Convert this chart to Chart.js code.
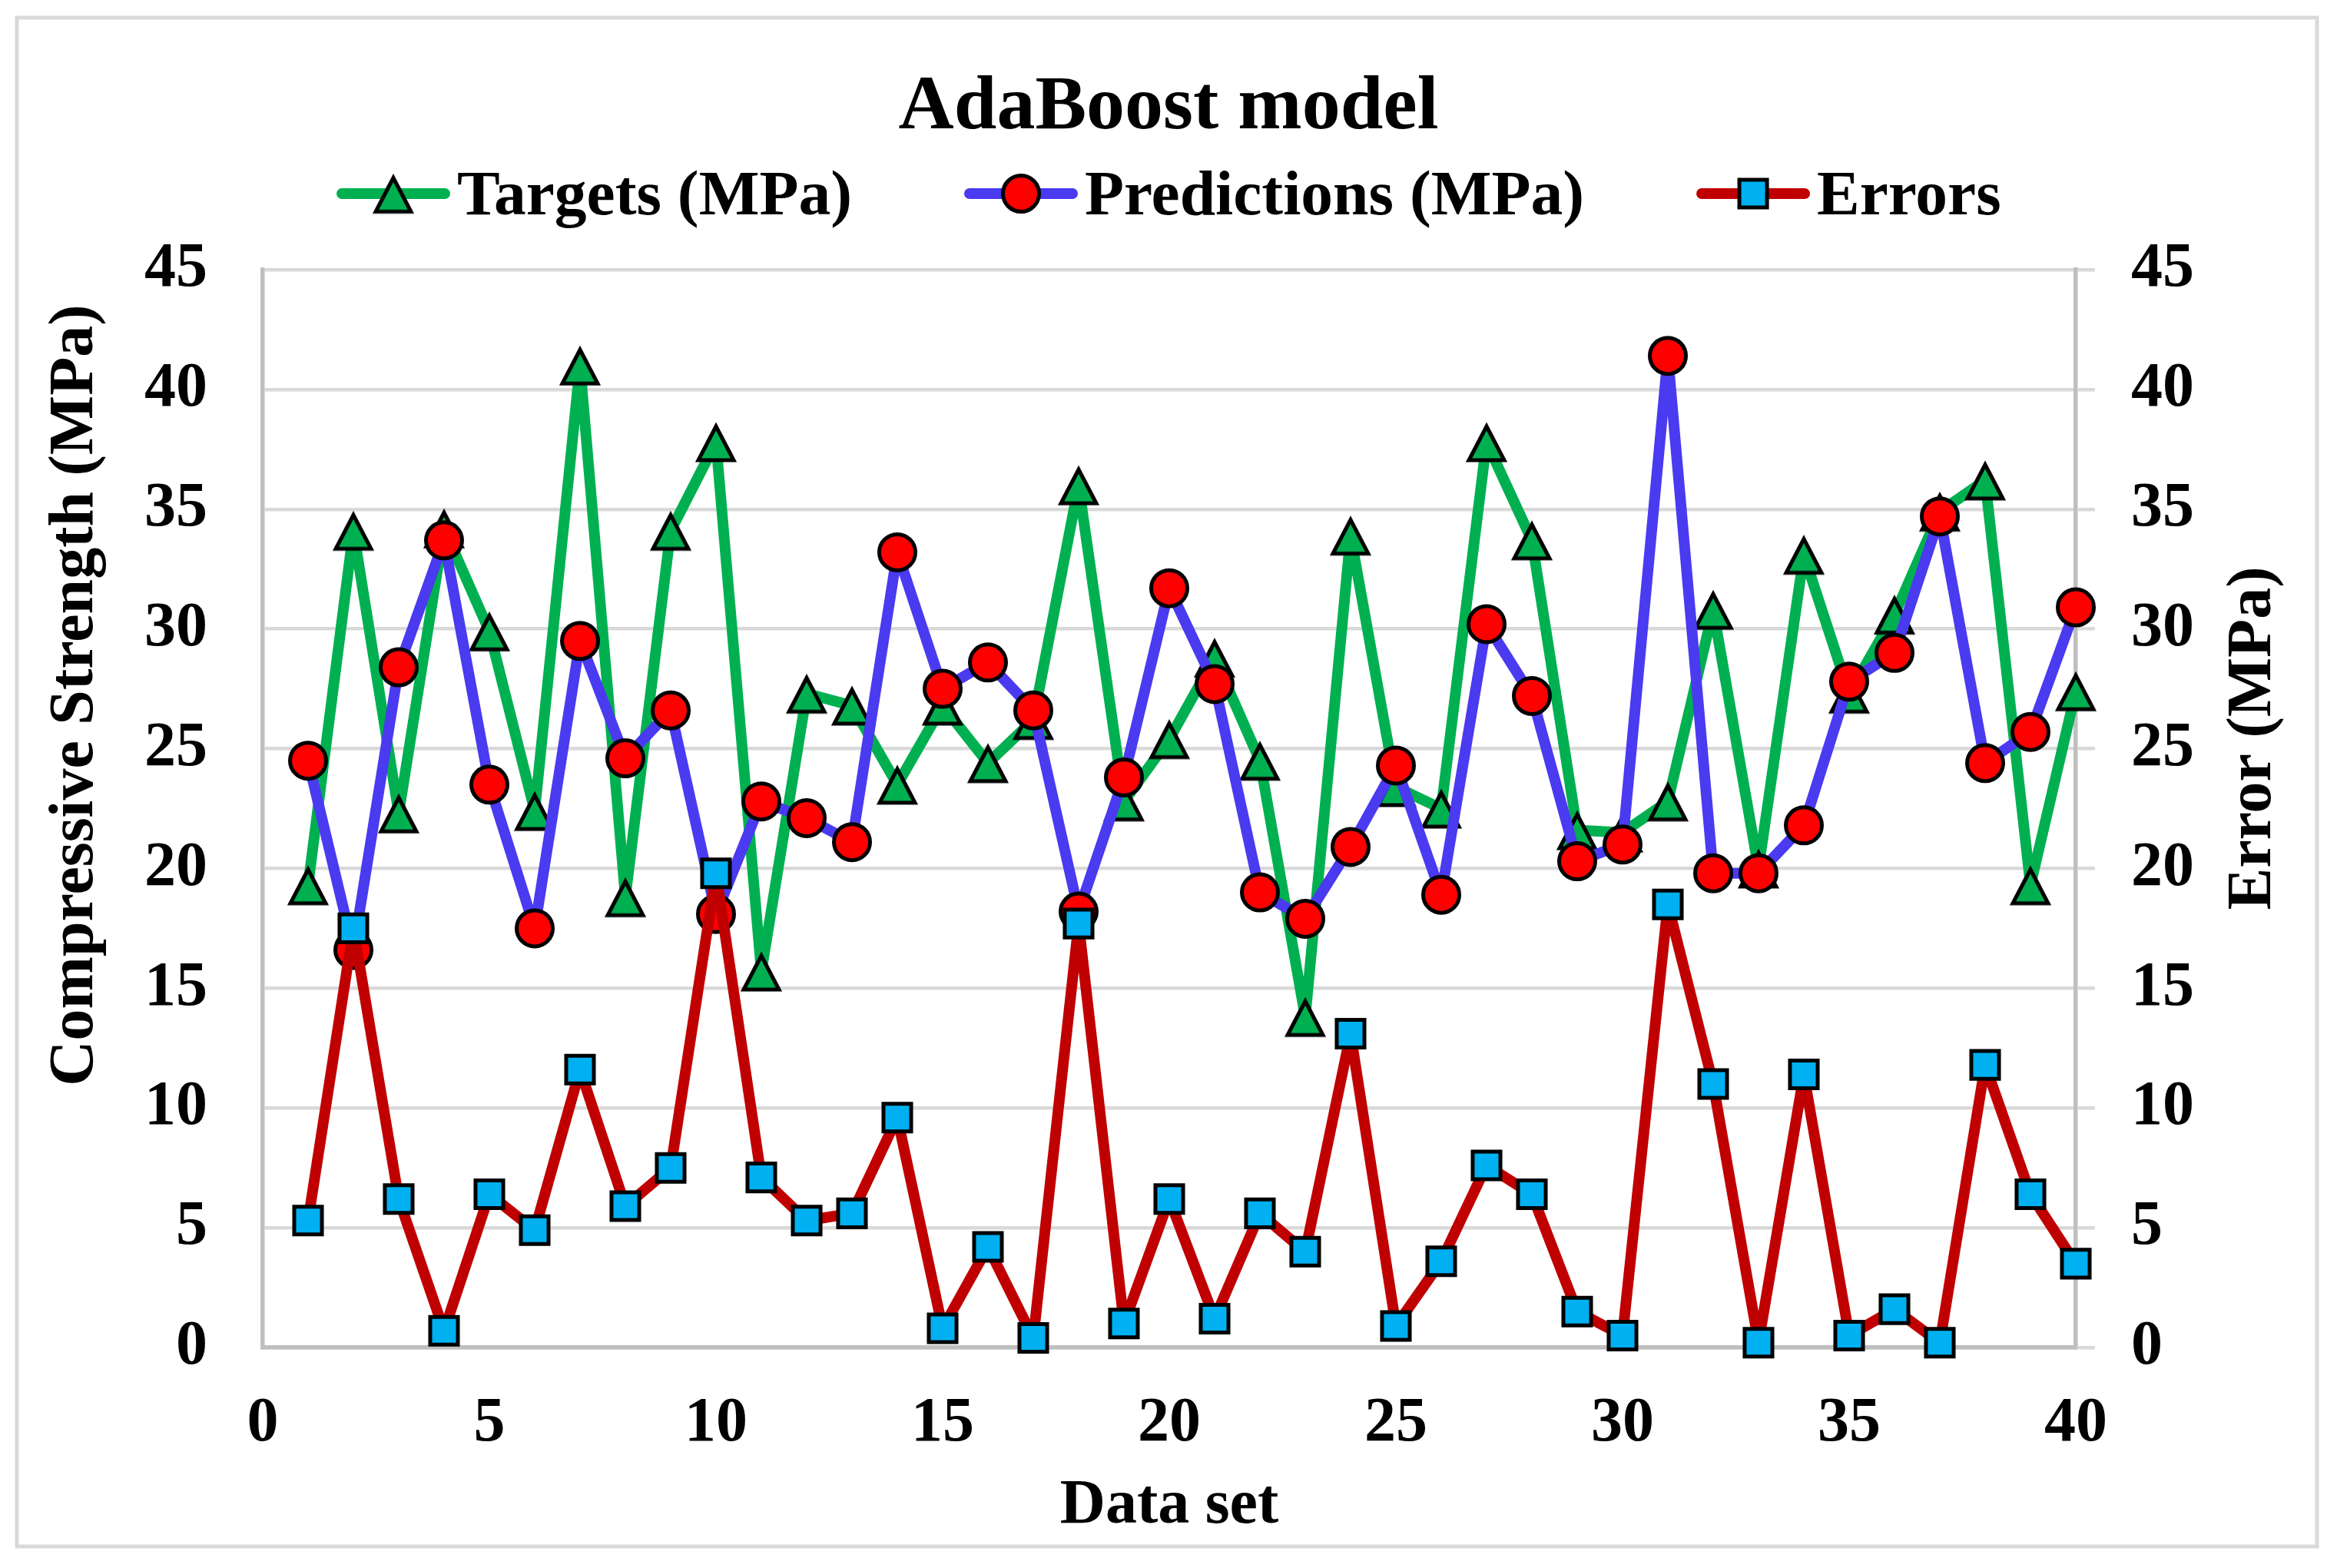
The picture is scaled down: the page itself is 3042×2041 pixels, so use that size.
<!DOCTYPE html>
<html>
<head>
<meta charset="utf-8">
<script src="https://cdn.jsdelivr.net/npm/chart.js@4.4.1/dist/chart.umd.min.js"></script>
<style>
  html, body { margin: 0; padding: 0; background: #ffffff; overflow: hidden; }
  canvas { display: block; }
</style>
</head>
<body>
<canvas id="chart" width="3042" height="2041" style="width:3042px;height:2041px"></canvas>
<script>
// ---- Data ----
const dataSet = [1, 2, 3, 4, 5, 6, 7, 8, 9, 10, 11, 12, 13, 14, 15, 16, 17, 18, 19, 20,
                 21, 22, 23, 24, 25, 26, 27, 28, 29, 30, 31, 32, 33, 34, 35, 36, 37, 38, 39, 40];
const targets = [19.3, 34.1, 22.3, 34.2, 29.9, 22.4, 41.0, 18.8, 34.1, 37.8,
                 15.7, 27.3, 26.8, 23.5, 26.8, 24.4, 26.2, 36.0, 22.8, 25.4,
                 28.8, 24.5, 13.8, 33.9, 23.4, 22.5, 37.8, 33.7, 21.6, 21.5,
                 22.8, 30.8, 20.0, 33.1, 27.3, 30.6, 34.9, 36.2, 19.3, 27.4];
const predictions = [24.5, 16.6, 28.4, 33.7, 23.5, 17.5, 29.5, 24.6, 26.6, 18.1,
                     22.8, 22.1, 21.1, 33.2, 27.5, 28.6, 26.6, 18.2, 23.8, 31.7,
                     27.7, 19.0, 17.9, 20.9, 24.3, 18.9, 30.2, 27.2, 20.3, 21.0,
                     41.4, 19.8, 19.8, 21.8, 27.8, 29.0, 34.7, 24.4, 25.7, 30.9];
const errors = [5.3, 17.5, 6.2, 0.7, 6.4, 4.9, 11.6, 5.9, 7.5, 19.8,
                7.1, 5.3, 5.6, 9.6, 0.8, 4.2, 0.4, 17.7, 1.0, 6.2,
                1.2, 5.6, 4.0, 13.1, 0.9, 3.6, 7.6, 6.4, 1.5, 0.5,
                18.5, 11.0, 0.2, 11.4, 0.5, 1.6, 0.2, 11.8, 6.4, 3.5];
const xTickValues = [0, 5, 10, 15, 20, 25, 30, 35, 40];
const yTickValues = [0, 5, 10, 15, 20, 25, 30, 35, 40, 45];
const seriesLabels = ['Targets (MPa)', 'Predictions (MPa)', 'Errors'];
const chartTitle = 'AdaBoost model';
const xTitle = 'Data set';
const yLeftTitle = 'Compressive Strength (MPa)';
const yRightTitle = 'Error (MPa)';

// ---- Styles ----
const FONT = "'Liberation Serif', 'Times New Roman', serif";
const GREEN = '#00b050', BLUE = '#4a3af0', DARKRED = '#c00000';
const GRID = '#d9d9d9', AXIS = '#bfbfbf';

function triangleImage() {
  const c = document.createElement('canvas');
  c.width = 60; c.height = 57;
  const g = c.getContext('2d');
  g.beginPath();
  g.moveTo(30, 8); g.lineTo(53, 52); g.lineTo(7, 52); g.closePath();
  g.fillStyle = GREEN; g.fill();
  g.lineWidth = 5; g.lineJoin = 'miter'; g.strokeStyle = '#000'; g.stroke();
  return c;
}
const triImg = triangleImage();

const toPoints = (ys) => dataSet.map((x, i) => ({ x: x, y: ys[i] }));

const backgroundPlugin = {
  id: 'bgBorder',
  beforeDraw(chart) {
    const ctx = chart.ctx;
    ctx.save();
    ctx.fillStyle = '#ffffff';
    ctx.fillRect(0, 0, chart.width, chart.height);
    ctx.strokeStyle = GRID;
    ctx.lineWidth = 5;
    ctx.strokeRect(22, 23, 2994, 1990);
    ctx.restore();
  }
};

const textPlugin = {
  id: 'axisTitlesLegend',
  afterDraw(chart) {
    const ctx = chart.ctx;
    ctx.save();
    ctx.fillStyle = '#000';
    ctx.font = 'bold 82px ' + FONT;
    ctx.textAlign = 'center';
    ctx.textBaseline = 'alphabetic';
    // left axis title
    ctx.save();
    ctx.translate(120, 905);
    ctx.rotate(-Math.PI / 2);
    ctx.fillText(yLeftTitle, 0, 0);
    ctx.restore();
    // right axis title
    ctx.save();
    ctx.translate(2955, 961);
    ctx.rotate(-Math.PI / 2);
    ctx.fillText(yRightTitle, 0, 0);
    ctx.restore();

    // legend
    ctx.font = 'bold 83.5px ' + FONT;
    ctx.textAlign = 'left';
    let x = 438;
    const yc = 252, base = 279;
    chart.data.datasets.forEach((ds) => {
      ctx.strokeStyle = ds.borderColor;
      ctx.lineWidth = 14;
      ctx.lineCap = 'round';
      ctx.beginPath();
      ctx.moveTo(x + 7, yc);
      ctx.lineTo(x + 141, yc);
      ctx.stroke();
      const cx = x + 74;
      if (ds.pointStyle === 'circle') {
        ctx.beginPath();
        ctx.arc(cx, yc, ds.pointRadius, 0, Math.PI * 2);
        ctx.fillStyle = ds.pointBackgroundColor; ctx.fill();
        ctx.lineWidth = ds.pointBorderWidth; ctx.strokeStyle = ds.pointBorderColor; ctx.stroke();
      } else if (ds.pointStyle === 'rect') {
        const s = ds.pointRadius * Math.SQRT1_2;
        ctx.beginPath();
        ctx.rect(cx - s, yc - s, 2 * s, 2 * s);
        ctx.fillStyle = ds.pointBackgroundColor; ctx.fill();
        ctx.lineWidth = ds.pointBorderWidth; ctx.strokeStyle = ds.pointBorderColor; ctx.stroke();
      } else {
        const img = ds.pointStyle;
        ctx.drawImage(img, cx - img.width / 2, yc - img.height / 2);
      }
      ctx.fillStyle = '#000';
      ctx.fillText(ds.label, x + 157, base);
      x = x + 157 + ctx.measureText(ds.label).width + 146;
    });
    ctx.restore();
  }
};

const tickFont = { family: FONT, size: 82, weight: 'bold' };

new Chart(document.getElementById('chart'), {
  type: 'line',
  data: {
    datasets: [
      {
        label: seriesLabels[0],
        data: toPoints(targets),
        yAxisID: 'y',
        borderColor: GREEN,
        backgroundColor: GREEN,
        borderWidth: 14,
        borderJoinStyle: 'round',
        borderCapStyle: 'round',
        tension: 0,
        pointStyle: triImg,
        pointRadius: 26,
        pointBackgroundColor: GREEN,
        pointBorderColor: '#000',
        pointBorderWidth: 5,
        clip: false,
        order: 3
      },
      {
        label: seriesLabels[1],
        data: toPoints(predictions),
        yAxisID: 'y',
        borderColor: BLUE,
        backgroundColor: BLUE,
        borderWidth: 14,
        borderJoinStyle: 'round',
        borderCapStyle: 'round',
        tension: 0,
        pointStyle: 'circle',
        pointRadius: 23.5,
        pointBackgroundColor: '#ff0000',
        pointBorderColor: '#000',
        pointBorderWidth: 5,
        clip: false,
        order: 2
      },
      {
        label: seriesLabels[2],
        data: toPoints(errors),
        yAxisID: 'y1',
        borderColor: DARKRED,
        backgroundColor: DARKRED,
        borderWidth: 14,
        borderJoinStyle: 'round',
        borderCapStyle: 'round',
        tension: 0,
        pointStyle: 'rect',
        pointRadius: 25.5,
        pointBackgroundColor: '#00b0f0',
        pointBorderColor: '#000',
        pointBorderWidth: 5,
        clip: false,
        order: 1
      }
    ]
  },
  options: {
    responsive: false,
    animation: false,
    devicePixelRatio: 1,
    layout: { padding: 0 },
    plugins: {
      legend: { display: false },
      tooltip: { enabled: false },
      title: {
        display: true,
        text: chartTitle,
        color: '#000',
        font: { family: FONT, size: 100, weight: 'bold', lineHeight: 1.2 },
        padding: { top: 81, bottom: 150 }
      }
    },
    scales: {
      x: {
        type: 'linear',
        position: 'bottom',
        min: 0,
        max: 40,
        afterBuildTicks: (s) => { s.ticks = xTickValues.map(v => ({ value: v })); },
        afterFit: (s) => { s.height = 287; },
        grid: { display: false, drawTicks: false, z: -1 },
        border: { display: true, color: AXIS, width: 5.5 },
        ticks: { color: '#000', font: tickFont, padding: 51, maxRotation: 0, autoSkip: false },
        title: {
          display: true,
          text: xTitle,
          color: '#000',
          font: { family: FONT, size: 82, weight: 'bold', lineHeight: 1.2 },
          padding: { top: 0, bottom: 31 }
        }
      },
      y: {
        type: 'linear',
        position: 'left',
        min: 0,
        max: 45,
        afterBuildTicks: (s) => { s.ticks = yTickValues.map(v => ({ value: v })); },
        afterFit: (s) => { s.width = 342; },
        grid: { color: GRID, lineWidth: 4.5, drawTicks: false, z: -1 },
        border: { display: true, color: AXIS, width: 5.5 },
        ticks: { color: '#000', font: tickFont, padding: 72, autoSkip: false }
      },
      y1: {
        type: 'linear',
        position: 'right',
        min: 0,
        max: 45,
        afterBuildTicks: (s) => { s.ticks = yTickValues.map(v => ({ value: v })); },
        afterFit: (s) => { s.width = 340; },
        grid: { color: GRID, lineWidth: 4.5, drawOnChartArea: false, drawTicks: true, tickLength: 25, z: -1 },
        border: { display: true, color: AXIS, width: 5.5 },
        ticks: { color: '#000', font: tickFont, padding: 47, autoSkip: false }
      }
    }
  },
  plugins: [backgroundPlugin, textPlugin]
});
</script>
</body>
</html>
